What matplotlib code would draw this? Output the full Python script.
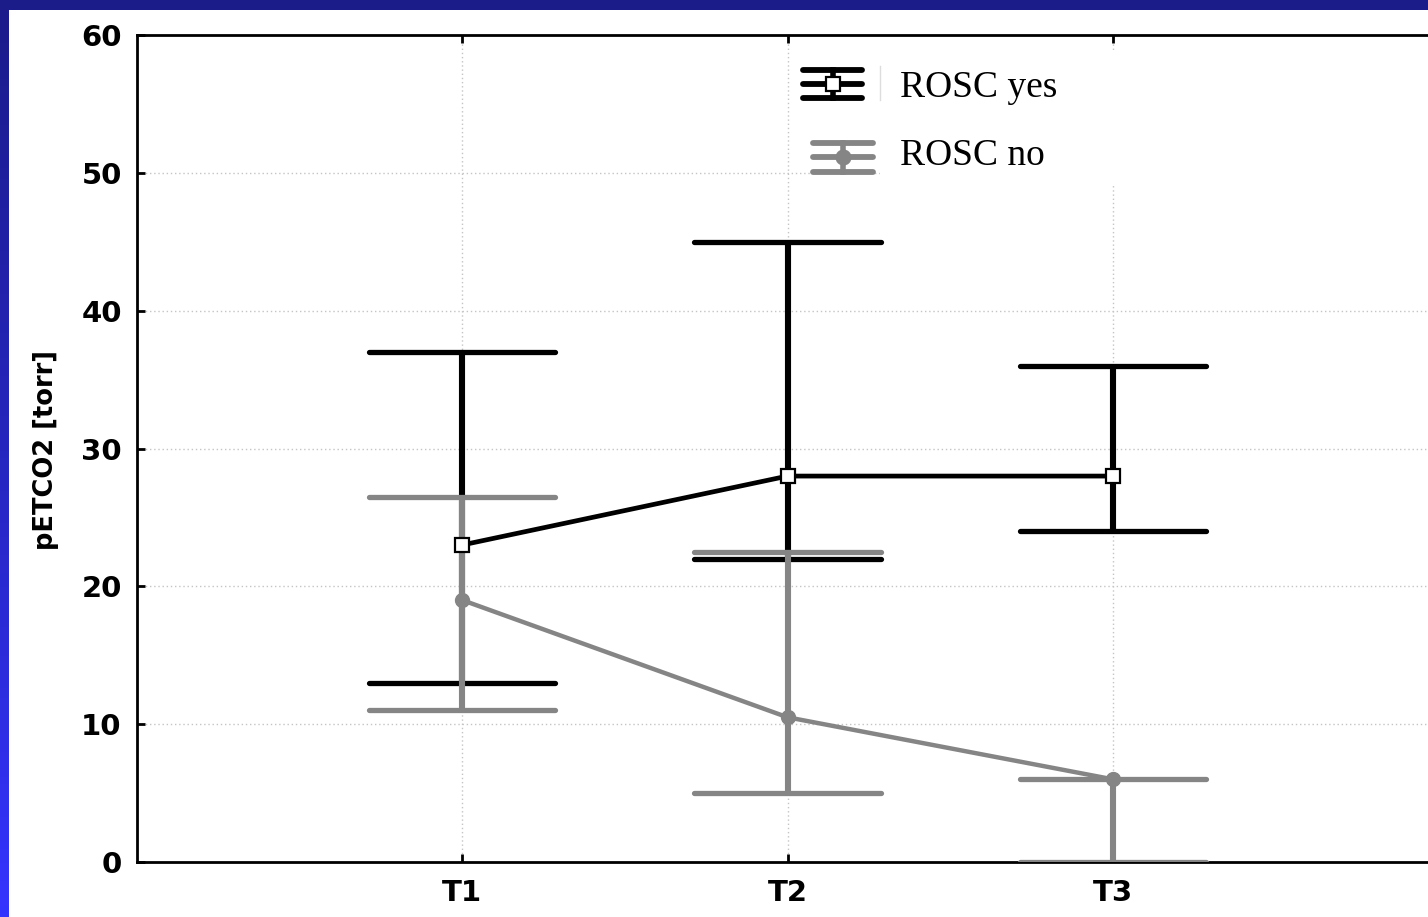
import numpy as np
import matplotlib
matplotlib.use("Agg")
import matplotlib.pyplot as plt
from matplotlib.patches import Rectangle
from matplotlib.lines import Line2D
from matplotlib.colors import LinearSegmentedColormap

# Time points and pETCO2 summary values
timepoints = ["T1", "T2", "T3"]
rosc_yes_mean = [23, 28, 28]
rosc_yes_low = [13, 22, 24]
rosc_yes_high = [37, 45, 36]
rosc_no_mean = [19, 10.5, 6]
rosc_no_low = [11, 5, 0]
rosc_no_high = [26.5, 22.5, 6]
series_labels = ["ROSC yes", "ROSC no"]
y_ticks = [0, 10, 20, 30, 40, 50, 60]

W, H = 1428, 917
fig = plt.figure(figsize=(W / 100, H / 100), dpi=100, facecolor="white")

def fx(px):
    return px / W

def fy(py):
    return 1 - py / H

# slide background: dark band on top, gradient band at left
grad = np.linspace(0, 1, 256).reshape(-1, 1)
bg = fig.add_axes([0, 0, fx(9), 1])
cmap = LinearSegmentedColormap.from_list("band", ["#1b1b8a", "#2626c0", "#3434ff"])
bg.imshow(grad, aspect="auto", cmap=cmap, extent=[0, 1, 1, 0])
bg.set_axis_off()
fig.add_artist(Rectangle((0, fy(10)), 1, 10 / H, transform=fig.transFigure,
                         facecolor="#1b1b8a", edgecolor="none", zorder=5))

# plot area
left, right, top, bottom = 137, 1438, 35, 862
ax = fig.add_axes([fx(left), fy(bottom), (right - left) / W, (bottom - top) / H])
ax.set_xlim(0, 4)
ax.set_ylim(0, 60)
ax.set_axisbelow(True)

x = np.arange(1, len(timepoints) + 1)
black = "#000000"
gray = "#858585"
cap_half = 0.286

def draw_bars(means, lows, highs, color, z):
    means = np.asarray(means, float)
    lows = np.asarray(lows, float)
    highs = np.asarray(highs, float)
    ax.errorbar(x, means, yerr=[means - lows, highs - means], fmt="none",
                ecolor=color, elinewidth=4.4, capsize=0, zorder=z)
    for arr in (lows, highs):
        ax.hlines(arr, x - cap_half, x + cap_half, colors=color, linewidth=3.8,
                  capstyle="round", zorder=z)

draw_bars(rosc_yes_mean, rosc_yes_low, rosc_yes_high, black, 2)
draw_bars(rosc_no_mean, rosc_no_low, rosc_no_high, gray, 3)
ax.plot(x, rosc_no_mean, color=gray, linewidth=3.2, marker="o", markersize=10,
        markerfacecolor=gray, markeredgecolor=gray, zorder=4)
ax.plot(x, rosc_yes_mean, color=black, linewidth=3.4, marker="s", markersize=9.5,
        markerfacecolor="white", markeredgecolor=black, markeredgewidth=1.6, zorder=5)

# axes styling
ax.set_xticks(x)
ax.set_xticklabels(timepoints)
ax.set_yticks(y_ticks)
ax.grid(True, linestyle=(0, (1, 2)), color="#c4c4c4", linewidth=1.0)
for s in ax.spines.values():
    s.set_linewidth(2.0)
ax.tick_params(direction="in", length=6, width=2, top=True, right=True,
               pad=11, labelsize=21)
ax.tick_params(axis="x", pad=12)
for lbl in ax.get_xticklabels() + ax.get_yticklabels():
    lbl.set_fontfamily("DejaVu Sans")
    lbl.set_fontweight("bold")
ax.set_ylabel("pETCO2 [torr]", fontsize=18.5, fontweight="bold",
              fontfamily="DejaVu Sans")
ax.yaxis.set_label_coords((59 - left) / (right - left), (bottom - 450) / (bottom - top))

# legend area
fig.add_artist(Rectangle((fx(880), fy(185)), fx(W - 880), (185 - 52) / H,
                         transform=fig.transFigure, facecolor="white",
                         edgecolor="none", zorder=2))
fig.add_artist(Line2D([fx(880), fx(880)], [fy(66), fy(100)], transform=fig.transFigure,
                      color="#dddddd", linewidth=1, zorder=3))

def legend_handle(x0, x1, ys, color, marker, mfc, z=6):
    for yy in ys:
        fig.add_artist(Line2D([fx(x0), fx(x1)], [fy(yy), fy(yy)], transform=fig.transFigure,
                              color=color, linewidth=4.2, solid_capstyle="round", zorder=z))
    xc = (x0 + x1) / 2
    fig.add_artist(Line2D([fx(xc), fx(xc)], [fy(ys[0]), fy(ys[-1])], transform=fig.transFigure,
                          color=color, linewidth=4.0, zorder=z))
    fig.add_artist(Line2D([fx(xc)], [fy(ys[1])], transform=fig.transFigure,
                          marker=marker, markersize=10, markerfacecolor=mfc,
                          markeredgecolor=color, markeredgewidth=1.6, linestyle="none", zorder=z + 1))

legend_handle(803, 862, [70, 84, 98], black, "s", "white")
legend_handle(813, 873, [143, 157, 172], gray, "o", gray)
for label, yy in zip(series_labels, [88, 156]):
    fig.text(fx(900), fy(yy), label, fontsize=27, fontfamily="Liberation Serif",
             va="center", ha="left", color="black", zorder=7)

fig.savefig("out.png", dpi=100, facecolor="white")
